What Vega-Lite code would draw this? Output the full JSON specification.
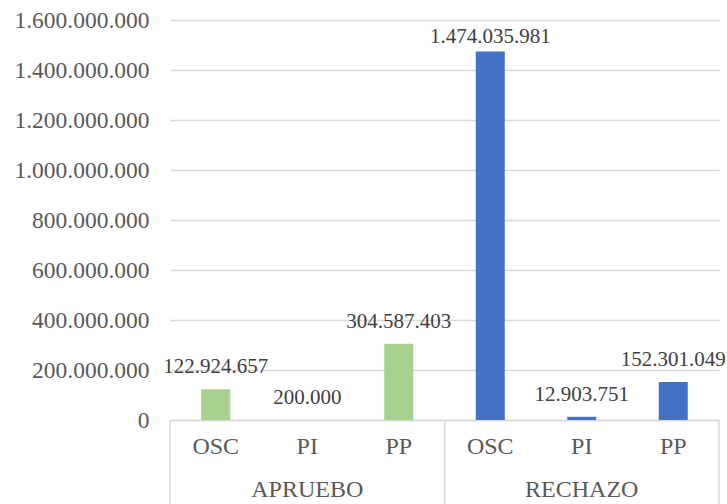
{
  "$schema": "https://vega.github.io/schema/vega-lite/v6.json",
  "autosize": {"type": "none"},
  "width": 549,
  "height": 400,
  "padding": {"left": 170, "top": 20, "right": 8, "bottom": 84},
  "background": "white",
  "config": {"view": {"stroke": null}, "font": "Liberation Serif"},
  "data": {
    "values": [
      {"grupo": "APRUEBO", "cat": "OSC", "valor": 122924657},
      {"grupo": "APRUEBO", "cat": "PI", "valor": 200000},
      {"grupo": "APRUEBO", "cat": "PP", "valor": 304587403},
      {"grupo": "RECHAZO", "cat": "OSC", "valor": 1474035981},
      {"grupo": "RECHAZO", "cat": "PI", "valor": 12903751},
      {"grupo": "RECHAZO", "cat": "PP", "valor": 152301049}
    ]
  },
  "transform": [
    {"calculate": "datum.grupo + '|' + datum.cat", "as": "key"},
    {"calculate": "replace(format(datum.valor, ','), /,/g, '.')", "as": "etiqueta"}
  ],
  "encoding": {
    "x": {
      "field": "key",
      "type": "nominal",
      "sort": null,
      "scale": {"paddingInner": 0, "paddingOuter": 0},
      "axis": {
        "title": null,
        "labelAngle": 0,
        "labelExpr": "split(datum.value, '|')[1]",
        "labelFont": "Liberation Serif",
        "labelFontSize": 24,
        "labelColor": "#595959",
        "labelPadding": 14,
        "ticks": false,
        "domain": true,
        "domainColor": "#D9D9D9",
        "domainWidth": 1.5
      }
    }
  },
  "layer": [
    {
      "mark": {"type": "bar", "width": {"band": 0.317}},
      "encoding": {
        "y": {
          "field": "valor",
          "type": "quantitative",
          "scale": {"domain": [0, 1600000000], "nice": false},
          "axis": {
            "title": null,
            "values": [0, 200000000, 400000000, 600000000, 800000000, 1000000000, 1200000000, 1400000000, 1600000000],
            "labelExpr": "replace(format(datum.value, ','), /,/g, '.')",
            "labelFont": "Liberation Serif",
            "labelFontSize": 23.5,
            "labelColor": "#595959",
            "labelPadding": 21,
            "ticks": false,
            "domain": false,
            "grid": true,
            "gridColor": "#D9D9D9",
            "gridWidth": 1.5
          }
        },
        "color": {
          "field": "grupo",
          "type": "nominal",
          "scale": {"domain": ["APRUEBO", "RECHAZO"], "range": ["#A9D18E", "#4472C4"]},
          "legend": null
        }
      }
    },
    {
      "transform": [{"filter": "datum.valor < 1000000000"}],
      "mark": {"type": "text", "baseline": "alphabetic", "dy": -16, "fontSize": 21, "color": "#404040", "font": "Liberation Serif"},
      "encoding": {
        "y": {"field": "valor", "type": "quantitative"},
        "text": {"field": "etiqueta"}
      }
    },
    {
      "transform": [{"filter": "datum.valor >= 1000000000"}],
      "mark": {"type": "text", "baseline": "alphabetic", "dy": -8, "fontSize": 21, "color": "#404040", "font": "Liberation Serif"},
      "encoding": {
        "y": {"field": "valor", "type": "quantitative"},
        "text": {"field": "etiqueta"}
      }
    },
    {
      "transform": [{"filter": "datum.cat == 'PI'"}],
      "mark": {"type": "text", "baseline": "middle", "fontSize": 24, "color": "#595959", "font": "Liberation Serif"},
      "encoding": {
        "y": {"datum": -280000000},
        "text": {"field": "grupo"}
      }
    },
    {
      "transform": [{"filter": "datum.cat == 'OSC'"}],
      "mark": {"type": "rule", "color": "#D9D9D9", "strokeWidth": 1.5},
      "encoding": {
        "x": {"field": "key", "type": "nominal", "sort": null, "bandPosition": 0},
        "y": {"datum": 0},
        "y2": {"datum": -340000000}
      }
    },
    {
      "transform": [{"filter": "datum.key == 'RECHAZO|PP'"}],
      "mark": {"type": "rule", "color": "#D9D9D9", "strokeWidth": 1.5},
      "encoding": {
        "x": {"field": "key", "type": "nominal", "sort": null, "bandPosition": 1},
        "y": {"datum": 0},
        "y2": {"datum": -340000000}
      }
    }
  ]
}
